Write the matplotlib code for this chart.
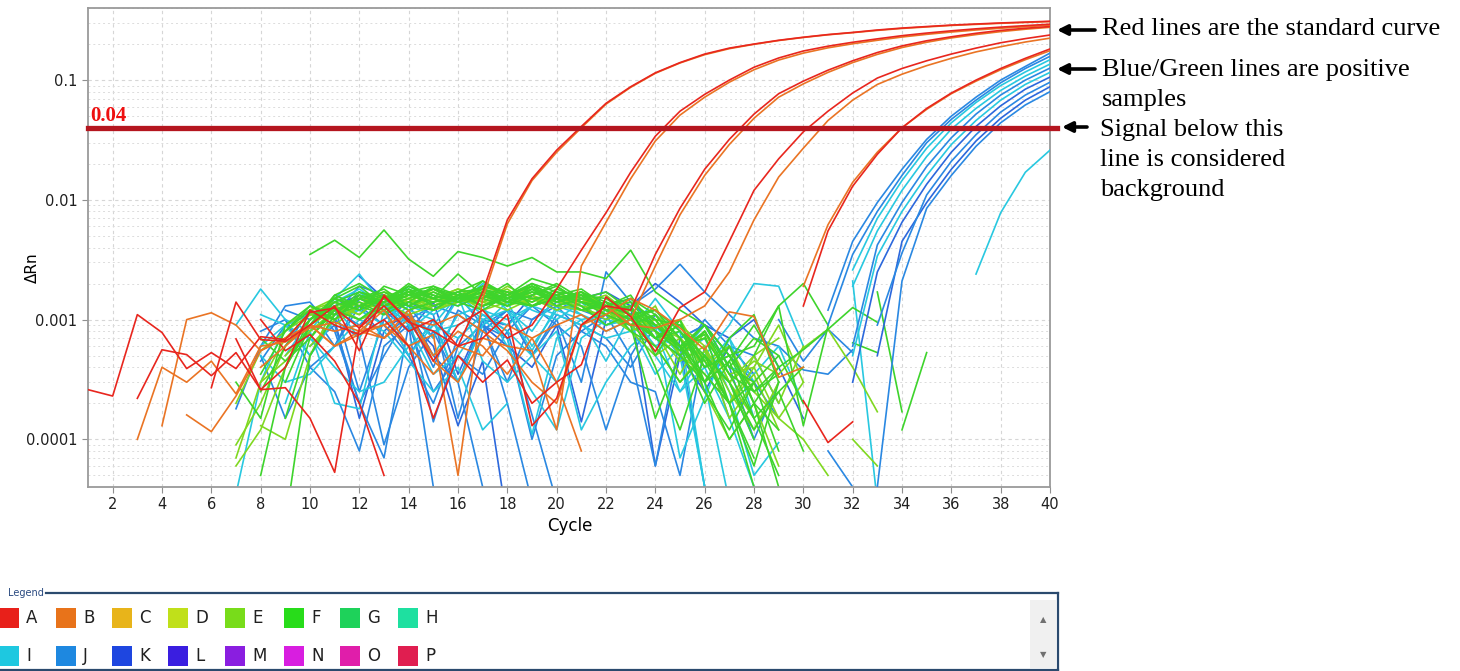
import matplotlib.pyplot as plt
import numpy as np
from matplotlib.patches import Rectangle
from matplotlib.ticker import LogLocator, NullFormatter

# all amplification traces are written in units of 0.001 dRn
MILLI = 1e-3
THRESHOLD = 0.04

# colours of the well groups
RED = '#e8261e'
ORANGE = '#ea7424'
GREEN = '#3ed42c'
LGREEN = '#80d820'
CYAN = '#28c8e0'
BLUE = '#2a88e2'
DBLUE = '#2c68dc'

# standard curve (red / orange pairs): (first cycle, values)
std_red_1 = (1, [0.26, 0.23, 1.1, 0.78, 0.39, 0.53, 0.39, 0.72, 0.68, 1.15, 1.25, 0.85, 1.3, 0.8, 1.0, 0.6,
                 1.7, 6.8, 15, 26, 41, 64, 88, 115, 140, 165, 185, 200, 215, 228, 240, 250, 262, 272, 280,
                 288, 294, 300, 305, 310])
std_org_1 = (4, [0.13, 1.0, 1.14, 0.9, 0.55, 0.7, 0.9, 0.6, 0.8, 0.9, 0.6, 0.75, 0.05, 1.5, 6.3, 14.5, 25,
                 40, 63, 87, 114, 139, 163, 183, 199, 214, 227, 239, 249, 260, 270, 278, 286, 292, 298,
                 303, 308])
std_red_2 = (3, [0.22, 0.56, 0.51, 0.34, 0.53, 0.26, 0.27, 0.15, 0.053, 0.85, 1.55, 1.0, 0.45, 0.9, 1.2,
                 0.7, 0.9, 1.8, 3.8, 7.8, 17, 34, 55, 76, 100, 128, 153, 175, 192, 207, 221, 235, 247,
                 258, 268, 277, 285, 293])
std_org_2 = (3, [0.1, 0.4, 0.3, 0.45, 0.24, 0.6, 0.65, 0.85, 0.95, 0.8, 0.7, 1.2, 0.45, 0.3, 0.7, 0.6,
                 0.55, 0.12, 2.8, 6.5, 15, 31, 51, 72, 96, 122, 147, 168, 186, 201, 215, 229, 241, 252,
                 262, 271, 279, 287])
std_red_3 = (6, [0.27, 1.4, 0.68, 0.66, 0.9, 1.3, 0.55, 1.6, 0.95, 0.8, 0.6, 0.7, 1.1, 0.13, 0.22, 0.9,
                 1.3, 1.2, 3.5, 8.5, 18, 32, 52, 77, 98, 121, 145, 170, 193, 213, 230, 246, 260, 271, 280])
std_org_3 = (5, [0.16, 0.116, 0.23, 0.55, 0.7, 0.9, 0.6, 0.75, 0.9, 1.1, 0.5, 0.8, 0.6, 0.35, 0.7, 0.9,
                 1.1, 0.8, 1.0, 2.8, 7.5, 16, 29, 48, 72, 93, 116, 140, 164, 187, 207, 225, 240, 254, 266,
                 276])
std_red_4 = (7, [0.69, 0.26, 0.4, 1.2, 0.9, 0.75, 1.0, 0.6, 0.15, 0.5, 0.3, 0.46, 0.2, 0.3, 0.42, 1.55,
                 1.06, 0.54, 1.26, 1.7, 4.5, 12, 22, 37, 55, 78, 104, 125, 145, 165, 185, 205, 222, 238])
std_org_4 = (8, [0.4, 0.6, 0.9, 0.8, 0.9, 0.7, 1.0, 0.9, 1.1, 0.8, 0.55, 0.3, 0.2, 0.9, 1.3, 0.9, 0.85,
                 1.0, 1.3, 2.5, 6.8, 15.5, 27, 46, 68, 92, 112, 132, 152, 172, 190, 208, 224])
std_red_5 = (30, [1.3, 5.5, 13, 24, 40, 58, 78, 100, 125, 152, 182])
std_org_5 = (30, [1.9, 6.2, 14, 25, 40, 57, 77, 98, 122, 148, 176])

# positive samples (blue / cyan)
pos_blue = [(31, [1.2, 4.5, 9.5, 18, 32, 50, 72, 100, 130, 168]),
            (31, [0.9, 3.5, 8.0, 16, 30, 47, 68, 95, 125, 158]),
            (32, [0.6, 4.2, 9.5, 19, 33, 52, 75, 100, 126]),
            (33, [0.9, 3.6, 11, 21, 35, 54, 75, 96]),
            (33, [0.04, 2.1, 8.5, 16, 28, 44, 62, 80])]
pos_dblue = [(32, [0.3, 2.5, 6.5, 13.5, 25, 41, 61, 84, 106]),
             (33, [0.5, 4.5, 9.5, 18, 31, 48, 68, 88])]
pos_cyan = [(32, [2.6, 7.0, 14.5, 27, 44, 65, 90, 117, 148]),
            (32, [1.9, 5.5, 12, 23, 39, 58, 82, 108, 136]),
            (32, [0.5, 3.4, 8.0, 16, 29, 46, 68, 92, 116]),
            (37, [2.4, 7.8, 17, 26])]

# background (negative) traces
green_noise = [
    (10, [3.5, 4.6, 3.3, 5.6, 3.2, 2.3, 3.7, 3.3, 2.8, 3.3, 2.5, 2.5, 2.2, 3.8, 1.7, 1.2, 0.9, 0.5]),
    (7, [0.3, 0.15, 0.9, 1.3, 1.1, 1.6, 1.4, 1.9, 1.5, 1.7, 1.8, 1.5, 2.0, 1.7, 1.6, 1.3, 1.5, 1.1, 0.6, 0.9,
         0.4, 0.3, 0.5, 0.2]),
    (8, [0.05, 0.4, 0.9, 1.4, 1.2, 1.5, 1.3, 1.7, 1.4, 2.1, 1.6, 1.9, 1.4, 1.7, 1.2, 1.0, 0.7, 0.8, 0.5, 0.3,
         0.12, 0.25, 0.4]),
    (9, [0.02, 0.5, 1.1, 1.3, 1.6, 1.2, 1.4, 1.5, 1.9, 1.7, 1.5, 1.6, 1.8, 1.3, 1.4, 0.8, 0.6, 0.35, 0.2,
         0.06, 0.3]),
    (8, [0.7, 0.45, 0.7, 1.2, 1.0, 1.4, 1.7, 1.5, 1.3, 1.6, 1.4, 1.7, 1.5, 1.2, 1.3, 1.1, 0.7, 0.5, 0.8,
         0.35, 0.25, 0.4, 0.56, 0.83, 1.26, 0.95]),
    (10, [1.0, 1.5, 1.9, 1.3, 1.6, 1.8, 1.4, 1.2, 1.6, 2.2, 1.9, 1.4, 1.1, 0.9, 0.15, 0.5, 0.3, 0.7, 1.1,
          0.3]),
    (9, [0.3, 0.9, 1.6, 2.0, 1.5, 1.8, 1.3, 1.5, 1.7, 1.4, 1.9, 1.6, 1.3, 0.9, 1.1, 0.4, 0.12, 0.5, 0.3,
         0.1]),
    (11, [1.2, 1.4, 1.1, 1.8, 1.5, 2.4, 1.6, 1.4, 1.8, 1.5, 1.7, 1.2, 1.0, 0.7, 0.9, 0.45, 0.2, 0.07]),
    (12, [1.5, 1.7, 1.3, 1.2, 1.6, 1.5, 2.0, 1.3, 1.5, 1.2, 1.4, 0.8, 0.6, 0.3, 0.5, 0.2, 0.04]),
    (8, [0.25, 0.6, 1.0, 1.5, 1.3, 1.1, 1.4, 1.2, 1.6, 1.3, 1.5, 1.8, 1.4, 1.6, 1.3, 1.5, 0.9, 0.6, 0.2,
         0.45, 0.9, 0.4]),
    (10, [0.7, 1.3, 1.5, 1.2, 1.4, 1.9, 1.6, 1.8, 1.4, 1.3, 1.5, 1.7, 1.2, 1.3, 0.5, 1.0, 0.25, 0.12, 0.3]),
    (9, [0.4, 1.0, 1.4, 1.7, 1.5, 1.9, 1.6, 1.4, 1.8, 1.6, 2.0, 1.5, 1.7, 1.4, 1.2, 0.9, 0.6, 0.7, 0.35,
         0.15, 0.25, 0.08]),
    (10, [1.3, 1.1, 1.7, 1.4, 2.0, 1.5, 1.7, 1.3, 1.6, 1.9, 1.4, 1.6, 1.5, 1.1, 1.2, 0.8, 0.4, 0.5, 0.25,
          0.35]),
    (8, [0.35, 0.8, 1.2, 1.0, 1.5, 1.8, 1.3, 1.6, 1.4, 1.7, 1.5, 1.8, 1.3, 1.5, 1.7, 1.2, 1.0, 0.55, 0.9,
         0.5, 0.2, 0.12]),
    (11, [1.5, 1.2, 1.9, 1.6, 1.4, 1.7, 2.1, 1.5, 1.3, 1.7, 1.4, 1.3, 0.9, 1.1, 0.6, 0.3, 0.45, 0.15, 0.05]),
    (9, [0.8, 1.3, 1.0, 1.6, 1.3, 1.5, 1.8, 1.6, 1.5, 1.3, 1.6, 1.9, 1.4, 1.2, 1.0, 1.2, 0.7, 0.3, 0.6, 0.2,
         0.4]),
    (10, [0.9, 1.6, 1.3, 1.5, 1.7, 1.3, 1.5, 1.9, 1.7, 1.4, 1.8, 1.5, 1.3, 1.6, 0.8, 0.55, 0.8, 0.4, 0.7,
          0.5]),
    (12, [1.6, 1.4, 1.7, 1.9, 1.4, 1.6, 1.3, 1.8, 1.6, 1.4, 1.2, 1.3, 0.7, 1.0, 0.3, 0.1, 0.2, 0.04]),
    (9, [0.15, 0.7, 1.2, 1.5, 1.3, 1.6, 1.4, 1.7, 1.3, 1.5, 1.7, 1.4, 1.6, 1.2, 1.4, 1.0, 0.9, 0.4, 0.5,
         0.6, 1.3, 2.0, 0.9]),
    (13, [1.4, 1.6, 1.8, 1.5, 1.7, 1.4, 1.6, 2.0, 1.5, 1.3, 1.1, 0.9, 0.6, 0.75, 0.2, 0.3, 0.08]),
    (28, [0.5, 1.3, 0.13, 0.88]),
    (32, [0.64, 0.53]),
    (33, [1.7, 0.17]),
    (34, [0.12, 0.53]),
]
lgreen_noise = [
    (7, [0.09, 0.2, 0.6, 1.0, 1.3, 1.1, 1.6, 1.3, 1.5, 1.8, 1.6, 1.3, 1.7, 1.5, 1.4, 1.6, 1.1, 0.9, 1.0,
         0.45, 0.6, 0.25, 0.15, 0.3]),
    (7, [0.07, 0.3, 0.45, 0.8, 1.1, 1.4, 1.2, 1.5, 1.7, 1.4, 1.6, 1.5, 1.9, 1.4, 1.3, 1.2, 0.8, 1.0, 0.6,
         0.5, 0.2, 0.35, 0.12]),
    (8, [0.13, 0.1, 0.5, 1.3, 1.0, 1.2, 1.5, 1.3, 1.6, 1.2, 1.4, 1.6, 1.3, 1.5, 1.1, 0.9, 1.1, 0.7, 0.4,
         0.6, 0.2, 0.06]),
    (9, [0.5, 0.8, 1.2, 1.5, 1.4, 1.7, 1.2, 1.4, 1.5, 1.8, 1.3, 1.6, 1.2, 1.4, 0.9, 1.3, 0.5, 0.8, 0.3,
         0.45, 0.35, 0.58, 0.83, 0.4, 0.17]),
    (10, [0.6, 1.0, 1.3, 1.4, 1.1, 1.3, 1.6, 1.4, 1.2, 1.5, 1.3, 1.2, 1.4, 1.0, 0.8, 0.6, 0.7, 0.35, 0.4,
          0.15, 0.1, 0.05]),
    (7, [0.06, 0.12, 0.4, 0.9, 1.2, 1.0, 1.3, 1.5, 1.2, 1.4, 1.7, 1.3, 1.5, 1.6, 1.2, 1.1, 0.9, 0.6, 0.3,
         0.55, 0.2, 0.4, 0.9, 0.3]),
    (11, [0.9, 1.3, 1.6, 1.4, 1.2, 1.5, 1.8, 1.4, 1.6, 1.3, 1.5, 1.1, 0.8, 0.5, 0.7, 0.25, 0.1, 0.2]),
    (8, [0.3, 0.7, 1.1, 1.4, 1.2, 1.6, 1.4, 1.5, 1.8, 1.4, 1.6, 1.3, 1.5, 1.7, 1.3, 1.2, 0.9, 0.7, 0.45,
         0.3, 0.5, 0.2, 0.6]),
    (9, [0.9, 1.2, 1.5, 1.3, 1.7, 1.5, 1.3, 1.6, 1.4, 1.9, 1.5, 1.4, 1.6, 1.1, 1.3, 0.7, 0.9, 0.6, 0.25,
         0.12, 0.3]),
    (10, [1.2, 1.4, 1.1, 1.6, 1.4, 1.8, 1.5, 1.3, 1.7, 1.5, 1.3, 1.5, 1.2, 0.9, 1.0, 0.5, 0.35, 0.2, 0.5,
          0.7]),
    (11, [1.1, 1.5, 1.3, 1.7, 1.5, 1.4, 1.9, 1.6, 1.4, 1.7, 1.3, 1.0, 1.2, 0.8, 0.45, 0.6, 0.15, 0.3]),
    (7, [0.2, 0.55, 0.8, 1.1, 1.0, 1.3, 1.5, 1.2, 1.4, 1.6, 1.3, 1.7, 1.5, 1.2, 1.4, 1.3, 1.0, 0.8, 0.35,
         0.8, 0.3, 0.15]),
    (32, [0.1, 0.06]),
]
cyan_noise = [
    (7, [0.9, 1.8, 1.0, 0.8, 1.1, 1.2, 0.9, 1.3, 1.1, 1.5, 1.0, 1.2, 0.55, 1.3, 1.1, 0.9, 1.0, 0.7, 0.6,
         0.5, 0.9, 2.0, 1.9, 0.6]),
    (8, [1.1, 0.9, 0.7, 0.4, 0.25, 0.3, 0.6, 0.9, 0.7, 1.1, 0.8, 0.5, 0.3, 0.9, 0.7, 0.8, 0.5, 0.25, 0.4,
         0.15, 0.04]),
    (9, [0.2, 0.8, 1.5, 2.4, 1.3, 0.95, 0.5, 1.1, 1.3, 0.6, 0.25, 0.12, 0.7, 1.0, 0.9, 0.35, 0.6, 0.3,
         0.03]),
    (10, [0.8, 0.2, 0.18, 1.2, 0.5, 0.9, 1.6, 0.45, 0.3, 0.5, 0.8, 0.12, 0.3, 0.6, 0.9, 0.07, 0.22, 0.7,
          0.3]),
    (12, [1.2, 1.4, 0.9, 0.35, 0.5, 1.0, 0.7, 0.11, 0.7, 1.0, 1.1, 0.8, 1.5, 0.8, 0.04]),
    (7, [0.035, 0.3, 0.9, 0.5, 1.0, 1.2, 1.4, 1.0, 0.8, 0.9, 1.2, 1.0, 1.3, 1.1, 0.9, 1.2, 0.8, 0.9, 0.5,
         0.7, 0.25, 0.05, 0.094]),
    (11, [1.4, 1.7, 1.2, 1.9, 1.5, 1.3, 2.0, 1.6, 1.2, 1.0, 1.4, 0.9, 1.1, 0.7, 0.5, 0.04]),
    (8, [0.5, 0.3, 0.35, 0.6, 1.0, 0.8, 0.45, 0.25, 0.4, 0.12, 0.2]),
    (8, [0.6, 0.9, 1.1, 1.3, 1.0, 1.4, 0.8, 1.2, 1.6, 1.1, 0.9, 1.3, 1.5, 1.1, 0.8, 1.0, 0.7, 0.5, 0.9,
         0.4, 0.35, 0.6, 0.2]),
    (9, [0.5, 1.0, 1.3, 0.7, 1.6, 1.2, 1.0, 0.3, 0.9, 1.4, 0.6, 1.2, 1.0, 0.45, 1.1, 0.8, 0.25, 0.55, 0.3,
         0.1]),
    (10, [1.0, 1.4, 1.8, 1.3, 1.1, 0.7, 1.5, 1.9, 1.2, 0.8, 1.6, 1.3, 0.9, 1.1, 0.6, 0.8, 0.4, 0.7, 0.15]),
    (32, [2.1, 0.03]),
]
blue_noise = [
    (7, [0.18, 0.6, 1.3, 1.4, 0.8, 0.2, 0.07, 0.9, 0.25, 0.5, 0.35, 0.8, 0.16, 0.03]),
    (8, [0.8, 1.0, 0.5, 1.1, 1.9, 1.6, 1.3, 0.7, 1.6, 0.9, 1.2, 0.5, 1.0, 0.3, 2.5, 1.4, 0.9, 0.5, 1.0,
         0.6, 0.5, 0.2]),
    (9, [0.9, 1.1, 1.2, 0.9, 1.4, 1.0, 1.3, 1.1, 0.8, 1.2, 1.0, 1.4, 1.2, 1.0, 1.3, 1.8, 2.9, 1.7, 1.1,
         0.7, 0.6, 0.38, 0.35, 0.56]),
    (8, [0.5, 0.15, 0.4, 0.25, 0.08, 0.6, 0.9, 0.04]),
    (10, [0.6, 0.9, 0.2, 0.5, 1.1, 0.14, 0.6, 0.9, 0.7, 0.1, 0.5, 0.8, 0.6, 0.3, 0.25, 0.05, 0.6, 0.15]),
    (11, [1.0, 0.7, 0.09, 0.4, 0.8, 0.3, 1.0, 0.2, 0.03]),
    (9, [1.0, 0.4, 0.6, 1.5, 1.2, 0.5, 0.2, 0.7, 1.1, 0.8, 1.3, 0.9, 0.6, 0.12, 0.5, 1.1, 0.7, 0.9, 0.4,
         0.1, 0.3]),
    (9, [1.2, 1.0, 1.5, 1.3, 0.7, 1.1, 0.4, 1.2, 0.9, 0.3, 1.0, 1.3, 0.8, 1.1, 0.5, 0.06, 0.7, 0.9, 0.5,
         0.3, 0.15]),
    (10, [0.9, 1.3, 0.25, 1.0, 1.4, 1.1, 0.15, 0.8, 1.2, 0.5, 1.1, 0.9, 0.7, 0.4, 0.9, 0.6, 0.04]),
    (8, [0.45, 0.9, 1.2, 0.6, 1.3, 0.9, 0.5, 1.0, 0.3, 0.04]),
    (29, [1.0, 0.45, 0.83, 0.53]),
    (31, [0.08, 0.04]),
]
dblue_noise = [
    (9, [0.6, 1.2, 1.0, 0.15, 0.8, 1.2, 0.5, 0.3, 0.9, 0.6, 0.4, 0.9, 0.14, 1.0, 1.3, 0.06, 0.5, 0.25, 0.6,
         0.35]),
    (10, [1.1, 1.3, 1.6, 1.2, 0.8, 1.4, 0.35, 1.0, 0.9, 1.6, 1.2, 1.5, 1.7, 1.3, 2.0, 1.4, 0.9, 0.7, 1.0,
          0.4, 0.15]),
    (12, [2.3, 1.5, 1.0, 0.6, 0.13, 0.45, 0.02]),
]
red_noise = [
    (8, [1.0, 0.55, 0.75, 0.45, 0.2, 0.05]),
    (30, [0.21, 0.094, 0.14]),
]
orange_noise = [
    (21, [0.9, 1.1, 1.5, 1.2, 0.85, 0.56, 1.16, 1.06, 0.33, 0.4]),
    (12, [0.8, 1.2, 0.6, 0.35, 0.6, 0.5, 0.9, 0.7, 0.3, 0.08]),
]

legend_names = ['A', 'B', 'C', 'D', 'E', 'F', 'G', 'H', 'I', 'J', 'K', 'L', 'M', 'N', 'O', 'P']
legend_colors = ['#e8201a', '#e8731a', '#e8b41a', '#c0e01a', '#78dc1a', '#28dc1a', '#1ed25a', '#1ee0a0',
                 '#1ec8e0', '#1e88e0', '#1e46e0', '#3a1ee0', '#8a1ee0', '#d81ee0', '#e01eaa', '#e01e50']

notes = ['Red lines are the standard curve', 'Blue/Green lines are positive\nsamples',
         'Signal below this\nline is considered\nbackground']


def draw(ax, trace, color, lw=1.2, z=2):
    start, vals = trace
    x = np.arange(start, start + len(vals))
    y = np.array(vals, dtype=float) * MILLI
    ax.plot(x, y, color=color, lw=lw, zorder=z)


fig = plt.figure(figsize=(14.6, 6.71), dpi=100)
W, H = 1460, 671
ax = fig.add_axes([88 / W, 1 - 487 / H, 962 / W, 479 / H])
ax.set_yscale('log')
ax.set_xlim(1, 40)
ax.set_ylim(4e-5, 0.4)

# noise first, then the rising curves on top
for t in dblue_noise:
    draw(ax, t, DBLUE)
for t in blue_noise:
    draw(ax, t, BLUE)
for t in cyan_noise:
    draw(ax, t, CYAN)
for t in lgreen_noise:
    draw(ax, t, LGREEN)
for t in green_noise:
    draw(ax, t, GREEN)
for t in red_noise:
    draw(ax, t, RED)
for t in orange_noise:
    draw(ax, t, ORANGE)

for t in pos_dblue:
    draw(ax, t, DBLUE, z=3)
for t in pos_blue:
    draw(ax, t, BLUE, z=3)
for t in pos_cyan:
    draw(ax, t, CYAN, z=3)

for t in [std_org_1, std_org_2, std_org_3, std_org_4, std_org_5]:
    draw(ax, t, ORANGE, z=3)
for t in [std_red_1, std_red_2, std_red_3, std_red_4, std_red_5]:
    draw(ax, t, RED, z=3)

# threshold
ax.plot([1, 40.3], [THRESHOLD, THRESHOLD], color='#b5161f', lw=3.8, clip_on=False, zorder=6)
ax.text(1.1, THRESHOLD * 1.04, '0.04', color='#ee1010', fontsize=15, fontweight='bold',
        family='Liberation Serif', va='bottom', ha='left', zorder=7)

# axes styling
ax.set_xticks(range(2, 41, 2))
ax.set_yticks([1e-4, 1e-3, 1e-2, 1e-1])
ax.set_yticklabels(['0.0001', '0.001', '0.01', '0.1'])
ax.yaxis.set_minor_locator(LogLocator(base=10, subs=range(2, 10)))
ax.yaxis.set_minor_formatter(NullFormatter())
ax.tick_params(which='minor', length=0)
ax.tick_params(which='major', length=4, color='#909090', labelsize=10.5, labelcolor='#202020')
ax.grid(which='major', color='#d6d6d6', ls=(0, (3, 3)), lw=0.8)
ax.grid(which='minor', axis='y', color='#dcdcdc', ls=(0, (2, 3)), lw=0.7)
for s in ax.spines.values():
    s.set_color('#9a9a9a')
    s.set_linewidth(1.3)
ax.set_ylabel('ΔRn', fontsize=11)
ax.yaxis.set_label_coords(-0.05, 0.457)
ax.set_xlabel('Cycle', fontsize=12)
ax.xaxis.set_label_coords(0.501, -0.062)

# notes with arrows on the right, one text line at a time
note_base = [[35], [76, 106], [136, 166, 196]]
note_x = [1102, 1102, 1100]
arrow_y = [30, 69, 127]
arrow_x = [(1095, 1057), (1095, 1057), (1087, 1062)]
for txt, bases, nx, ay, (x0, x1) in zip(notes, note_base, note_x, arrow_y, arrow_x):
    for line, b in zip(txt.split('\n'), bases):
        fig.text(nx / W, 1 - b / H, line, fontsize=19, family='Liberation Serif',
                 va='baseline', ha='left')
    ax.annotate('', xy=(x1 / W, 1 - ay / H), xytext=(x0 / W, 1 - ay / H),
                xycoords='figure fraction', textcoords='figure fraction',
                arrowprops=dict(arrowstyle='-|>,head_length=0.6,head_width=0.3', lw=2.6, color='black',
                                shrinkA=0, shrinkB=0))

# legend panel at the bottom
box = dict(transform=fig.transFigure, clip_on=False)
fig.patches.append(Rectangle((1030 / W, 1 - 668 / H), 26 / W, 68 / H, facecolor='#f0f0f0',
                             edgecolor='none', **box))
fig.lines.append(plt.Line2D([46 / W, 1058 / W], [1 - 593 / H, 1 - 593 / H], color='#2b4a6e', lw=1.6,
                            transform=fig.transFigure))
fig.lines.append(plt.Line2D([1058 / W, 1058 / W], [1 - 593 / H, 0], color='#2b4a6e', lw=1.6,
                            transform=fig.transFigure))
fig.lines.append(plt.Line2D([0, 1058 / W], [0.001, 0.001], color='#2b4a6e', lw=1.6,
                            transform=fig.transFigure))
fig.text(8 / W, 1 - 593 / H, 'Legend', fontsize=7, color='#2a4a80', va='center', ha='left')
fig.text(1043 / W, 1 - 620 / H, '▲', fontsize=6, color='#707070', va='center', ha='center')
fig.text(1043 / W, 1 - 655 / H, '▼', fontsize=6, color='#707070', va='center', ha='center')

sq_left = [-1, 56, 112, 168, 225, 284, 340, 398]
row_y = [618, 656]
for i, (name, col) in enumerate(zip(legend_names, legend_colors)):
    r, c = divmod(i, 8)
    x0 = sq_left[c]
    yc = row_y[r]
    fig.patches.append(Rectangle((x0 / W, 1 - (yc + 10) / H), 20 / W, 20 / H, facecolor=col,
                                 edgecolor='none', **box))
    fig.text((x0 + 27) / W, 1 - yc / H, name, fontsize=12, color='#202020', va='center', ha='left')

fig.savefig('out.png', dpi=100)
